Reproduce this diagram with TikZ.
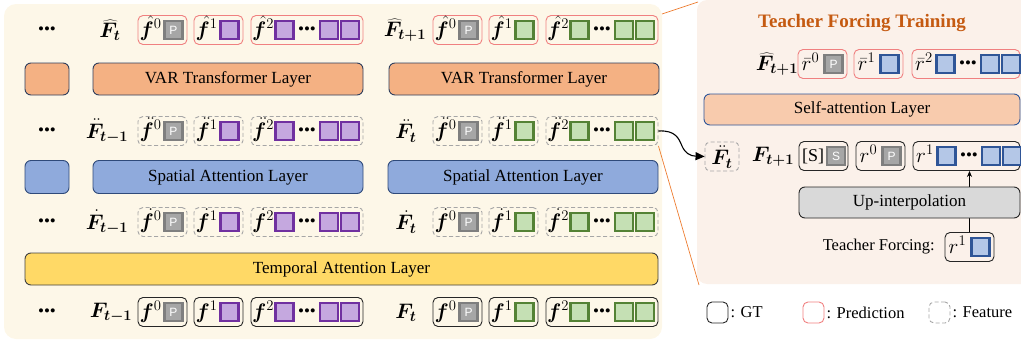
\RequirePackage{fix-cm}
\documentclass[tikz,border=0pt]{standalone}
\usepackage{bm}
\usepackage{fontspec}
\setmainfont{Liberation Serif}
\newfontfamily\tokfont{Liberation Sans}
\usetikzlibrary{arrows.meta}

\definecolor{creambg}{HTML}{FDF7E8}
\definecolor{pinkbg}{HTML}{FBF1EA}
\definecolor{varfill}{HTML}{F4B183}
\definecolor{varline}{HTML}{2F3E5C}
\definecolor{selffill}{HTML}{F8CBAD}
\definecolor{selfline}{HTML}{2F5597}
\definecolor{spfill}{HTML}{8FAADC}
\definecolor{spline}{HTML}{2F4A7A}
\definecolor{tmpfill}{HTML}{FFD966}
\definecolor{tmpline}{HTML}{404040}
\definecolor{upfill}{HTML}{D9D9D9}
\definecolor{upline}{HTML}{262626}
\definecolor{predline}{HTML}{F08080}
\definecolor{featline}{HTML}{A6A6A6}
\definecolor{gtline}{HTML}{262626}
\definecolor{purplefill}{HTML}{C5A8DF}
\definecolor{purpleline}{HTML}{7030A0}
\definecolor{greenfill}{HTML}{C5E0B4}
\definecolor{greenline}{HTML}{548235}
\definecolor{bluefill}{HTML}{B4C7E7}
\definecolor{blueline}{HTML}{2F5597}
\definecolor{grayfill}{HTML}{A6A6A6}
\definecolor{grayline}{HTML}{7F7F7F}
\definecolor{titlecol}{HTML}{C55A11}
\definecolor{zoomline}{HTML}{ED7D31}

\tikzset{
  every node/.style={font=\fontsize{17}{20}\selectfont},
  layer/.style={draw, rounded corners=6pt, line width=0.9pt, inner sep=0pt},
  varl/.style={layer, fill=varfill, draw=varline},
  selfl/.style={layer, fill=selffill, draw=selfline},
  spl/.style={layer, fill=spfill, draw=spline},
  tmpl/.style={layer, fill=tmpfill, draw=tmpline},
  upl/.style={layer, fill=upfill, draw=upline},
  tok/.style={draw, line width=2.4pt, minimum size=18pt, inner sep=0pt},
  ptok/.style={tok, fill=purplefill, draw=purpleline},
  gtok/.style={tok, fill=greenfill, draw=greenline},
  btok/.style={tok, fill=bluefill, draw=blueline},
  xtok/.style={tok, fill=grayfill, draw=grayline, text=white,
    font=\tokfont\fontsize{12}{12}\selectfont},
  grp/.style={rounded corners=5pt, line width=0.9pt, inner sep=0pt},
  predbox/.style={grp, draw=predline},
  featbox/.style={grp, draw=featline, dash pattern=on 4pt off 2.5pt},
  gtbox/.style={grp, draw=gtline},
  dots/.style={inner sep=0pt},
  lbl/.style={inner sep=0pt},
  mlbl/.style={inner sep=0pt, font=\fontsize{21}{24}\selectfont},
  zoomln/.style={draw=zoomline, line width=0.7pt},
  legtxt/.style={anchor=west, inner sep=2pt, font=\fontsize{16.5}{20}\selectfont},
}

% a group with one token: name, box style, left x, centre y, label, token style, token text
\newcommand{\grpone}[7]{%
  \node[#2, minimum width=49pt, minimum height=29pt] (#1) at ({#3+24.5},#4) {};
  \node[mlbl, anchor=base] (#1l) at ({#3+12.5},{#4+6.5}) {#5};
  \node[#6] (#1t) at ({#3+35.5},#4) {#7};
}
% a group with a run of tokens: name, box style, left x, centre y, label, token style, width
\newcommand{\grpmany}[7]{%
  \node[#2, minimum width=#7pt, minimum height=29pt] (#1) at ({#3+#7/2},#4) {};
  \node[mlbl, anchor=base] (#1l) at ({#3+12},{#4+6.5}) {#5};
  \node[#6] (#1a) at ({#3+33.5},#4) {};
  \node[dots] (#1d) at ({#3+56},{#4+1}) {\textbullet\textbullet\textbullet};
  \node[#6] (#1b) at ({#3+78},#4) {};
  \node[#6] (#1c) at ({#3+99},#4) {};
}

\begin{document}
\begin{tikzpicture}[x=1pt, y=-1pt]
\useasboundingbox (0,0) rectangle (1021,343);

% panels
\path[fill=creambg, rounded corners=12pt] (4,4) rectangle (662,339);
\path[fill=pinkbg, rounded corners=10pt] (697,0) rectangle (1040,284);

% ---------- row 1: predictions ----------
\node[dots] (d1) at (47,31) {\textbullet\textbullet\textbullet};
\node[mlbl] (lab1a) at (110,30) {$\bm{\widehat{F}}_{\bm{t}}$};
\grpone{r1a}{predbox}{138}{30}{$\bm{\hat{f}}^0$}{xtok}{P}
\grpone{r1b}{predbox}{194}{30}{$\bm{\hat{f}}^1$}{ptok}{}
\grpmany{r1c}{predbox}{251}{30}{$\bm{\hat{f}}^2$}{ptok}{112}
\node[mlbl] (lab1b) at (405,30) {$\bm{\widehat{F}}_{\bm{t+1}}$};
\grpone{r1d}{predbox}{433}{30}{$\bm{\hat{f}}^0$}{xtok}{P}
\grpone{r1e}{predbox}{489}{30}{$\bm{\hat{f}}^1$}{gtok}{}
\grpmany{r1f}{predbox}{546}{30}{$\bm{\hat{f}}^2$}{gtok}{112}

% ---------- row 2: VAR layers ----------
\node[varl, minimum width=44pt, minimum height=32pt] (v0) at (47,79) {};
\node[varl, minimum width=270pt, minimum height=32pt] (v1) at (228,79) {VAR Transformer Layer};
\node[varl, minimum width=270pt, minimum height=32pt] (v2) at (524,79) {VAR Transformer Layer};

% ---------- row 3: spatial features ----------
\node[dots] (d3) at (47,132) {\textbullet\textbullet\textbullet};
\node[mlbl] (lab3a) at (107,131) {$\bm{\ddot{F}}_{\bm{t-1}}$};
\grpone{r3a}{featbox}{138}{131}{$\bm{\ddot{f}}^0$}{xtok}{P}
\grpone{r3b}{featbox}{194}{131}{$\bm{\ddot{f}}^1$}{ptok}{}
\grpmany{r3c}{featbox}{251}{131}{$\bm{\ddot{f}}^2$}{ptok}{112}
\node[mlbl] (lab3b) at (406,131) {$\bm{\ddot{F}}_{\bm{t}}$};
\grpone{r3d}{featbox}{433}{131}{$\bm{\ddot{f}}^0$}{xtok}{P}
\grpone{r3e}{featbox}{489}{131}{$\bm{\ddot{f}}^1$}{gtok}{}
\grpmany{r3f}{featbox}{546}{131}{$\bm{\ddot{f}}^2$}{gtok}{112}

% ---------- row 4: spatial attention ----------
\node[spl, minimum width=44pt, minimum height=33pt] (s0) at (47,177) {};
\node[spl, minimum width=270pt, minimum height=33pt] (s1) at (228,177) {Spatial Attention Layer};
\node[spl, minimum width=270pt, minimum height=33pt] (s2) at (523,177) {Spatial Attention Layer};

% ---------- row 5: temporal features ----------
\node[dots] (d5) at (47,223) {\textbullet\textbullet\textbullet};
\node[mlbl] (lab5a) at (107,222) {$\bm{\dot{F}}_{\bm{t-1}}$};
\grpone{r5a}{featbox}{138}{222}{$\bm{\dot{f}}^0$}{xtok}{P}
\grpone{r5b}{featbox}{194}{222}{$\bm{\dot{f}}^1$}{ptok}{}
\grpmany{r5c}{featbox}{251}{222}{$\bm{\dot{f}}^2$}{ptok}{112}
\node[mlbl] (lab5b) at (406,222) {$\bm{\dot{F}}_{\bm{t}}$};
\grpone{r5d}{featbox}{433}{222}{$\bm{\dot{f}}^0$}{xtok}{P}
\grpone{r5e}{featbox}{489}{222}{$\bm{\dot{f}}^1$}{gtok}{}
\grpmany{r5f}{featbox}{546}{222}{$\bm{\dot{f}}^2$}{gtok}{112}

% ---------- row 6: temporal attention ----------
\node[tmpl, minimum width=633pt, minimum height=32pt] (t1) at (341.5,269) {Temporal Attention Layer};

% ---------- row 7: ground truth ----------
\node[dots] (d7) at (47,313) {\textbullet\textbullet\textbullet};
\node[mlbl] (lab7a) at (111,313) {$\bm{F}_{\bm{t-1}}$};
\grpone{r7a}{gtbox}{138}{312}{$\bm{f}^0$}{xtok}{P}
\grpone{r7b}{gtbox}{194}{312}{$\bm{f}^1$}{ptok}{}
\grpmany{r7c}{gtbox}{251}{312}{$\bm{f}^2$}{ptok}{112}
\node[mlbl] (lab7b) at (406,313) {$\bm{F}_{\bm{t}}$};
\grpone{r7d}{gtbox}{433}{312}{$\bm{f}^0$}{xtok}{P}
\grpone{r7e}{gtbox}{489}{312}{$\bm{f}^1$}{gtok}{}
\grpmany{r7f}{gtbox}{546}{312}{$\bm{f}^2$}{gtok}{112}

% ---------- zoom-in lines ----------
\coordinate (zsrc) at (662,14);
\coordinate (ztop) at (698,2);
\coordinate (zbot) at (699,285);
\draw[zoomln] (zsrc) -- (ztop);
\draw[zoomln] (r3f.south east) -- (zbot);

% ---------- teacher forcing panel ----------
\node[font=\bfseries\fontsize{19}{22}\selectfont, text=titlecol] (title) at (862,23) {Teacher Forcing Training};

\node[mlbl] (q1lab) at (777,64) {$\bm{\widehat{F}}_{\bm{t+1}}$};
\grpone{q1a}{predbox}{798}{64}{$\bar{r}^0$}{xtok}{P}
\grpone{q1b}{predbox}{854}{64}{$\bar{r}^1$}{btok}{}
\grpmany{q1c}{predbox}{912}{64}{$\bar{r}^2$}{btok}{108}

\node[selfl, minimum width=316pt, minimum height=31pt] (sa) at (862,109.5) {Self-attention Layer};

\node[featbox, minimum width=34pt, minimum height=29pt] (ftb) at (722,156.5) {};
\node[mlbl] (ftl) at (722,157) {$\bm{\ddot{F}}_{\bm{t}}$};
\node[mlbl] (q2lab) at (773,157) {$\bm{F}_{\bm{t+1}}$};
\node[gtbox, minimum width=49pt, minimum height=29pt] (q2a) at (823.5,156) {};
\node[lbl, font=\fontsize{18}{20}\selectfont] (q2al) at (813,156) {[S]};
\node[xtok] (q2at) at (836,156) {S};
\grpone{q2b}{gtbox}{856}{156}{$r^0$}{xtok}{P}
\grpmany{q2c}{gtbox}{913}{156}{$r^1$}{btok}{107}

\node[lbl, anchor=east, font=\fontsize{16.5}{20}\selectfont] (tflab) at (935,247) {Teacher Forcing:};
\grpone{q3}{gtbox}{945}{247}{$r^1$}{btok}{}

\draw[line width=0.8pt, -{Stealth[length=6pt,width=5pt]}] (q3.north) -- (q3.north |- q2c.south);
\node[upl, minimum width=221pt, minimum height=31pt] (up) at (909.5,202.5) {Up-interpolation};

% feature handed to the teacher forcing branch
\draw[line width=1.1pt, -{Triangle[length=9pt,width=8pt]}, draw=black]
  (r3f.east) .. controls (676,130) and (679,139) .. (682,146)
  .. controls (685,153) and (690,156) .. (ftb.west);

% ---------- legend ----------
\node[gtbox, minimum width=21pt, minimum height=21pt] (lg1) at (717.5,312.5) {};
\node[legtxt] (lg1t) at (lg1.east) {: GT};
\node[predbox, minimum width=21pt, minimum height=21pt] (lg2) at (813.5,312.5) {};
\node[legtxt] (lg2t) at (lg2.east) {: Prediction};
\node[featbox, minimum width=21pt, minimum height=21pt] (lg3) at (939.5,312.5) {};
\node[legtxt] (lg3t) at (lg3.east) {: Feature};
\end{tikzpicture}
\end{document}
